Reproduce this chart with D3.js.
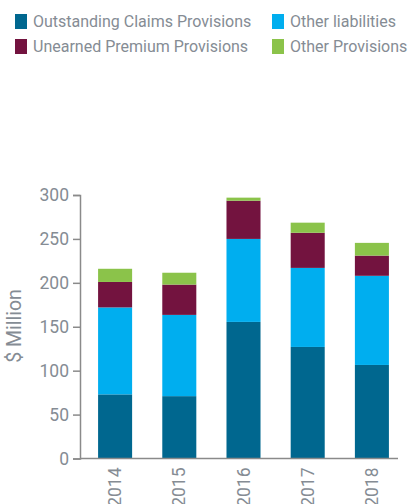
<!DOCTYPE html>
<html>
<head>
<meta charset="utf-8">
<script src="https://cdn.jsdelivr.net/npm/d3@7"></script>
<style>
  body { margin: 0; background: #fff; }
  text { font-family: Roboto, "Noto Sans", sans-serif; }
</style>
</head>
<body>
<div id="chart"></div>
<script>
// data
const years = ['2014', '2015', '2016', '2017', '2018'];
const seriesNames = ['Outstanding Claims Provisions', 'Other liabilities', 'Unearned Premium Provisions', 'Other Provisions'];
const outstandingClaims = [73, 71, 155.5, 127, 106.5];
const otherLiabilities = [99, 92.5, 94.5, 90, 101.5];
const unearnedPremium = [29, 34.5, 43.5, 40, 23];
const otherProvisions = [15, 13.5, 3.5, 11.5, 14.5];
const yTicks = [0, 50, 100, 150, 200, 250, 300];

const colors = ['#00678f', '#00aeef', '#73133f', '#8bc34a'];
const textColor = '#858c94';
const axisColor = '#8a8a8a';

const width = 412, height = 504;

const svg = d3.select('#chart').append('svg')
  .attr('width', width)
  .attr('height', height);

// table for the stack
const rows = years.map((y, i) => ({
  year: y,
  [seriesNames[0]]: outstandingClaims[i],
  [seriesNames[1]]: otherLiabilities[i],
  [seriesNames[2]]: unearnedPremium[i],
  [seriesNames[3]]: otherProvisions[i]
}));
const stacked = d3.stack().keys(seriesNames)(rows);

const x = d3.scaleBand().domain(years).range([83, 404]).paddingInner(0.47).paddingOuter(0.235);
const y = d3.scaleLinear().domain([0, 300]).range([458.5, 195]);

// bars
svg.append('g').selectAll('g')
  .data(stacked)
  .join('g')
  .attr('fill', (d, i) => colors[i])
  .selectAll('rect')
  .data(d => d)
  .join('rect')
  .attr('x', d => x(d.data.year))
  .attr('width', x.bandwidth())
  .attr('y', d => y(d[1]))
  .attr('height', d => y(d[0]) - y(d[1]));

// y axis
const yAxis = svg.append('g')
  .attr('transform', 'translate(80,0)')
  .call(d3.axisLeft(y).tickValues(yTicks).tickSize(7).tickPadding(4));
yAxis.select('.domain').attr('stroke', axisColor).attr('stroke-width', 1.5);
yAxis.selectAll('.tick line').attr('stroke', axisColor).attr('stroke-width', 1.5);
yAxis.selectAll('.tick text')
  .attr('fill', textColor)
  .style('font-size', '17.5px');

// x axis
const xAxis = svg.append('g')
  .attr('transform', 'translate(0,458.5)')
  .call(d3.axisBottom(x).tickSize(0));
xAxis.select('.domain').attr('d', 'M80,0H398').attr('stroke', axisColor).attr('stroke-width', 1.5);
xAxis.selectAll('.tick text')
  .attr('fill', textColor)
  .style('font-size', '17.5px')
  .attr('text-anchor', 'end')
  .attr('transform', 'rotate(-90)')
  .attr('x', -9)
  .attr('y', 0)
  .attr('dy', '0.35em');

// y label
svg.append('text')
  .attr('transform', 'translate(21,326) rotate(-90)')
  .attr('text-anchor', 'middle')
  .attr('fill', textColor)
  .style('font-size', '19.5px')
  .text('$ Million');

// legend
const legendPos = [[15, 14], [272, 14], [15, 39], [272, 39]];
const legendOrder = [0, 1, 2, 3];
const legend = svg.append('g').selectAll('g')
  .data(legendOrder)
  .join('g')
  .attr('transform', (d, i) => `translate(${legendPos[i][0]},${legendPos[i][1]})`);
legend.append('rect')
  .attr('width', 12)
  .attr('height', 15)
  .attr('fill', d => colors[d]);
legend.append('text')
  .attr('x', 18)
  .attr('y', 12.5)
  .attr('fill', textColor)
  .style('font-size', '16px')
  .text(d => seriesNames[d]);
</script>
</body>
</html>
